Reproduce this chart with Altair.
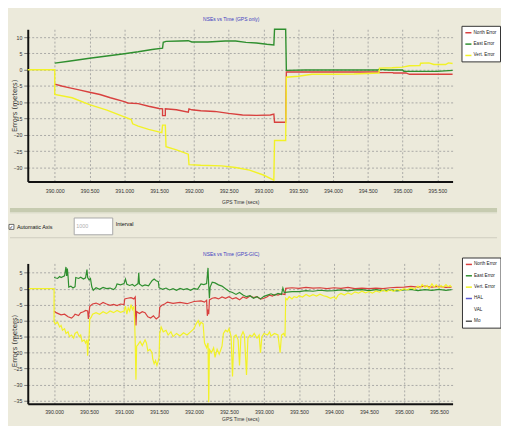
import altair as alt
import pandas as pd

BG = "#ECEADB"
FONT = "Liberation Sans"
TITLE_BLUE = "#3C3CC0"

SERIES_TOP = ["North Error", "East Error", "Vert. Error"]
COLORS_TOP = ["#D8403E", "#2F8F2F", "#F2F226"]
SERIES_BOT = ["North Error", "East Error", "Vert. Error", "HAL", "VAL", "Mo"]
COLORS_BOT = ["#D8403E", "#2F8F2F", "#F2F226", "#5A5AD2", "transparent", "#555555"]

X_TICKS = [390.0, 390.5, 391.0, 391.5, 392.0, 392.5, 393.0, 393.5, 394.0, 394.5, 395.0, 395.5]
Y_TICKS_TOP = [10, 5, 0, -5, -10, -15, -20, -25, -30]
Y_TICKS_BOT = [5, 0, -5, -10, -15, -20, -25, -30, -35]

# ---------------- top panel (GPS only): [time, error] ----------------
top_north = [
    [390.00, -4.4], [390.10, -5.0], [390.20, -5.5], [390.35, -6.2], [390.50, -6.9],
    [390.65, -7.6], [390.80, -8.6], [391.00, -9.8], [391.05, -10.2], [391.20, -10.4],
    [391.35, -11.2], [391.50, -11.9], [391.55, -12.0], [391.55, -14.1], [391.59, -14.1],
    [391.59, -12.0], [391.75, -12.3], [391.92, -13.0], [391.93, -12.0], [391.97, -12.3],
    [392.10, -12.6], [392.30, -12.8], [392.50, -13.4], [392.70, -13.9], [392.90, -14.0],
    [393.10, -13.9], [393.15, -13.6], [393.16, -16.1], [393.32, -16.1], [393.33, -0.7],
    [393.80, -0.7], [394.66, -0.7], [394.67, -0.9], [394.86, -0.9], [394.87, -1.0],
    [395.05, -1.0], [395.10, -1.4], [395.72, -1.4],
]
top_east = [
    [390.00, 2.0], [390.20, 2.6], [390.50, 3.5], [390.75, 4.2], [391.00, 4.9],
    [391.20, 5.5], [391.40, 6.2], [391.55, 6.6], [391.56, 8.4], [391.60, 8.7],
    [391.80, 8.8], [391.92, 8.9], [391.97, 8.5], [392.20, 8.5], [392.45, 8.8],
    [392.60, 8.8], [392.75, 8.4], [392.90, 8.2], [393.05, 7.8], [393.15, 7.6],
    [393.16, 12.4], [393.32, 12.4], [393.33, -0.2], [393.60, -0.1], [394.65, -0.1],
    [394.66, 0.1], [394.80, -0.1], [395.00, -0.1], [395.02, -0.5], [395.50, -0.5],
    [395.72, -0.2],
]
top_vert = [
    [389.61, 0.0], [390.00, 0.0], [390.00, -7.6], [390.25, -8.6], [390.50, -10.7],
    [390.75, -12.4], [391.00, -14.5], [391.10, -15.3], [391.12, -16.6], [391.20, -17.3],
    [391.35, -18.3], [391.54, -19.3], [391.55, -17.0], [391.59, -17.0], [391.60, -23.6],
    [391.75, -24.6], [391.92, -25.9], [391.93, -29.1], [392.10, -29.3], [392.40, -29.5],
    [392.60, -30.0], [392.80, -30.8], [393.00, -32.3], [393.15, -33.9], [393.16, -21.7],
    [393.32, -21.7], [393.33, -2.3], [393.50, -2.0], [393.70, -1.4], [394.00, -1.4],
    [394.30, -1.3], [394.66, -1.0], [394.67, 0.5], [394.85, 0.6], [395.00, 0.8],
    [395.10, 1.2], [395.25, 1.3], [395.26, 2.0], [395.38, 2.1], [395.45, 1.6],
    [395.62, 1.6], [395.66, 2.1], [395.72, 1.9],
]

# ---------------- bottom panel (GPS-GIC): [time, error] ----------------
bot_north = [
    [390.00, -7.0], [390.03, -7.5], [390.06, -7.8], [390.10, -8.2], [390.15, -8.0],
    [390.20, -8.8], [390.25, -9.2], [390.28, -8.6], [390.30, -8.0], [390.35, -8.4],
    [390.38, -7.5], [390.42, -7.2], [390.45, -6.8], [390.48, -7.0], [390.49, -9.5],
    [390.50, -7.5], [390.51, -5.5], [390.55, -4.8], [390.60, -4.5], [390.65, -5.0],
    [390.70, -4.3], [390.75, -4.8], [390.80, -5.2], [390.85, -4.9], [390.90, -5.3],
    [390.95, -4.8], [391.00, -5.0], [391.01, -3.2], [391.05, -3.0], [391.10, -2.8],
    [391.14, -3.2], [391.16, -2.6], [391.17, -11.5], [391.18, -7.2], [391.22, -7.8],
    [391.26, -7.2], [391.30, -7.5], [391.34, -8.8], [391.38, -9.2], [391.42, -8.5],
    [391.46, -9.5], [391.50, -8.8], [391.51, -5.8], [391.54, -5.2], [391.58, -4.8],
    [391.62, -4.2], [391.70, -4.6], [391.80, -4.3], [391.90, -4.7], [392.00, -4.0],
    [392.10, -3.8], [392.15, -4.2], [392.18, -3.6], [392.19, -8.5], [392.20, -6.5],
    [392.21, -8.0], [392.22, -3.5], [392.26, -3.0], [392.30, -2.8], [392.35, -3.2],
    [392.40, -2.6], [392.45, -3.0], [392.50, -2.5], [392.55, -3.2], [392.60, -2.8],
    [392.65, -3.5], [392.70, -2.6], [392.75, -3.0], [392.80, -2.3], [392.85, -2.8],
    [392.90, -2.5], [392.95, -3.3], [393.00, -3.0], [393.04, -2.6], [393.08, -2.0],
    [393.12, -2.3], [393.16, -1.8], [393.20, -2.0], [393.25, -1.6], [393.30, -1.8],
    [393.31, 0.1], [393.40, 0.3], [393.50, 0.1], [393.60, 0.4], [393.70, 0.2],
    [393.80, 0.3], [393.90, 0.0], [394.00, 0.3], [394.10, 0.1], [394.20, 0.4],
    [394.30, 0.0], [394.40, 0.2], [394.50, 0.0], [394.60, 0.2], [394.70, 0.0],
    [394.80, 0.3], [394.90, 0.4], [395.00, 0.5], [395.10, 0.7], [395.20, 0.5],
    [395.30, 0.8], [395.40, 0.5], [395.50, 0.7], [395.60, 0.4], [395.68, 0.5],
]
bot_east = [
    [390.00, 3.5], [390.05, 3.2], [390.08, 3.8], [390.10, 3.5], [390.15, 4.0],
    [390.17, 6.8], [390.18, 4.0], [390.19, 6.3], [390.20, 3.8], [390.21, 0.5],
    [390.24, 0.8], [390.27, 0.2], [390.30, 0.6], [390.31, 3.5], [390.35, 3.2],
    [390.38, 3.6], [390.42, 3.0], [390.45, 3.4], [390.47, 6.0], [390.48, 3.5],
    [390.50, 2.8], [390.52, 3.2], [390.54, 0.5], [390.56, -0.5], [390.60, 0.3],
    [390.65, -0.2], [390.70, 0.4], [390.75, 0.0], [390.80, 0.2], [390.85, -0.3],
    [390.88, 0.3], [390.90, 1.5], [390.95, 1.2], [391.00, 1.6], [391.02, 3.0],
    [391.04, 1.4], [391.08, 1.0], [391.12, 1.3], [391.15, 0.8], [391.20, 1.6],
    [391.21, 5.0], [391.22, 1.5], [391.26, 0.8], [391.30, 1.2], [391.35, 0.9],
    [391.40, 2.5], [391.43, 3.0], [391.46, 2.5], [391.49, 2.2], [391.50, 0.3],
    [391.55, -0.2], [391.60, 0.2], [391.65, -0.4], [391.70, 0.0], [391.75, -0.5],
    [391.80, 0.1], [391.85, -0.3], [391.90, 0.0], [391.95, -0.5], [392.00, 0.1],
    [392.05, -0.2], [392.10, 1.5], [392.14, 1.3], [392.18, 1.6], [392.20, 6.5],
    [392.21, 1.0], [392.22, -3.0], [392.23, 0.5], [392.26, 2.0], [392.30, 1.8],
    [392.35, 1.2], [392.40, 0.8], [392.45, 0.0], [392.50, -0.8], [392.55, -1.2],
    [392.60, -1.8], [392.65, -1.2], [392.70, -2.0], [392.75, -2.5], [392.80, -2.2],
    [392.85, -3.0], [392.90, -2.5], [392.95, -3.2], [393.00, -2.4], [393.05, -2.0],
    [393.10, -1.6], [393.15, -2.1], [393.20, -1.5], [393.25, -1.8], [393.27, 0.2],
    [393.29, -1.2], [393.33, -1.1], [393.40, -0.9], [393.50, -0.9], [393.60, -0.6],
    [393.70, -0.8], [393.80, -0.5], [393.90, -0.7], [394.00, -0.6], [394.10, -0.4],
    [394.20, -0.7], [394.30, -0.4], [394.40, -0.3], [394.50, -0.6], [394.60, -0.3],
    [394.70, -0.6], [394.80, -0.4], [394.90, -0.7], [395.00, -0.4], [395.10, -0.2],
    [395.20, -0.6], [395.30, -0.3], [395.40, -0.5], [395.50, -0.2], [395.60, -0.5],
    [395.68, -0.3],
]
bot_vert = [
    [389.64, 0.0], [390.00, 0.0], [390.00, -10.3], [390.02, -11.0], [390.05, -10.5],
    [390.08, -12.0], [390.10, -11.5], [390.12, -13.0], [390.15, -12.5], [390.17, -14.0],
    [390.20, -13.5], [390.22, -15.0], [390.25, -14.5], [390.28, -15.5], [390.30, -14.0],
    [390.33, -13.5], [390.36, -15.0], [390.38, -14.5], [390.40, -16.5], [390.43, -16.0],
    [390.45, -17.0], [390.47, -16.0], [390.48, -21.0], [390.49, -16.5], [390.50, -15.5],
    [390.51, -9.5], [390.53, -9.0], [390.55, -8.0], [390.60, -7.5], [390.65, -8.0],
    [390.70, -7.2], [390.75, -7.8], [390.80, -7.0], [390.85, -7.5], [390.90, -6.8],
    [390.95, -7.4], [391.00, -7.0], [391.02, -5.5], [391.04, -8.0], [391.06, -6.0],
    [391.08, -7.0], [391.10, -5.0], [391.12, -6.5], [391.14, -5.5], [391.15, -9.0],
    [391.16, -17.0], [391.17, -28.5], [391.18, -18.0], [391.20, -17.5], [391.23, -16.5],
    [391.26, -17.8], [391.30, -16.0], [391.32, -17.0], [391.34, -19.5], [391.37, -19.0],
    [391.40, -20.0], [391.41, -22.0], [391.43, -23.5], [391.45, -22.5], [391.47, -24.0],
    [391.49, -22.5], [391.50, -21.5], [391.51, -14.0], [391.53, -12.0], [391.56, -13.5],
    [391.60, -13.0], [391.63, -14.5], [391.67, -13.5], [391.70, -15.0], [391.75, -14.0],
    [391.80, -14.8], [391.85, -13.8], [391.90, -14.5], [391.95, -13.5], [392.00, -12.5],
    [392.03, -11.0], [392.06, -10.0], [392.08, -11.5], [392.10, -10.5], [392.13, -11.0],
    [392.15, -17.0], [392.18, -18.5], [392.20, -17.0], [392.21, -35.5], [392.22, -19.0],
    [392.25, -20.0], [392.28, -18.5], [392.30, -21.5], [392.33, -19.0], [392.36, -20.5],
    [392.40, -18.0], [392.42, -14.0], [392.45, -13.0], [392.48, -13.5], [392.50, -12.5],
    [392.53, -15.0], [392.55, -27.5], [392.57, -15.0], [392.60, -14.5], [392.63, -16.0],
    [392.65, -24.0], [392.67, -15.0], [392.70, -13.5], [392.72, -14.5], [392.75, -27.0],
    [392.77, -15.5], [392.80, -14.5], [392.83, -15.0], [392.86, -14.0], [392.90, -15.5],
    [392.93, -14.5], [392.95, -20.0], [392.97, -15.0], [393.00, -14.0], [393.05, -14.5],
    [393.08, -13.5], [393.10, -14.8], [393.15, -14.0], [393.20, -14.5], [393.23, -20.0],
    [393.25, -14.5], [393.28, -14.0], [393.30, -15.0], [393.31, -3.0], [393.33, -3.5],
    [393.36, -2.5], [393.40, -3.2], [393.43, -2.5], [393.47, -2.8], [393.50, -2.2],
    [393.55, -2.6], [393.60, -1.8], [393.65, -2.4], [393.70, -1.9], [393.75, -2.3],
    [393.80, -1.7], [393.85, -2.2], [393.90, -2.5], [393.95, -3.0], [394.00, -2.6],
    [394.03, -3.2], [394.06, -2.0], [394.10, -1.5], [394.15, -2.0], [394.20, -1.3],
    [394.25, -1.8], [394.30, -1.0], [394.35, -1.4], [394.40, -0.8], [394.45, -1.3],
    [394.50, -0.9], [394.55, -1.4], [394.60, -0.7], [394.65, -1.1], [394.70, -0.4],
    [394.75, -0.9], [394.80, -0.3], [394.85, -0.8], [394.90, -0.2], [394.95, -0.6],
    [395.00, 0.0], [395.05, -0.4], [395.10, 0.3], [395.15, -0.2], [395.20, 0.8],
    [395.23, 0.2], [395.26, 1.3], [395.30, 0.4], [395.33, 1.0], [395.36, 0.1],
    [395.40, 1.5], [395.43, 0.5], [395.46, 1.2], [395.50, 0.3], [395.53, 1.0],
    [395.56, 0.4], [395.60, 1.3], [395.63, 0.6], [395.66, 1.0], [395.68, 0.5],
]


def frame(pairs, name):
    return pd.DataFrame({
        "t": [p[0] for p in pairs],
        "v": [p[1] for p in pairs],
        "s": name,
        "i": list(range(len(pairs))),
    })


one = pd.DataFrame({"k": [0]})


def x_axis(label_pad, title_y):
    return alt.Axis(values=X_TICKS, format=".3f", title="GPS Time (secs)", ticks=False,
                    labelPadding=label_pad, titleY=title_y, titleBaseline="middle",
                    labelFlush=False, labelOverlap=False)


def y_axis(vals, title_y):
    return alt.Axis(values=vals, title="Errors (meters)", tickSize=4, labelPadding=2,
                    titleX=-10, titleY=title_y, titleFont="DejaVu Sans", titleFontSize=7,
                    labelOverlap=False, labelFlush=False)


def legend(x, y):
    return alt.Legend(title=None, orient="none", legendX=x, legendY=y, direction="vertical",
                      fillColor="white", strokeColor="#333333", padding=3, rowPadding=4.5,
                      symbolType="stroke", symbolSize=38, symbolStrokeWidth=1.5,
                      labelFont=FONT, labelFontSize=4.7, labelColor="#222222", labelOffset=1.2,
                      cornerRadius=0)


def deco_rect(x, x2, y, y2, fill, stroke=None, sw=0):
    kw = {"fill": fill}
    if stroke:
        kw.update(stroke=stroke, strokeWidth=sw)
    return alt.Chart(one).mark_rect(**kw).encode(
        x=alt.value(x), x2=alt.value(x2), y=alt.value(y), y2=alt.value(y2))


def deco_text(txt, x, y, color="#111111", size=5.5, font=FONT, align="left"):
    return alt.Chart(one).mark_text(text=txt, align=align, baseline="middle", fontSize=size,
                                    font=font, color=color).encode(x=alt.value(x), y=alt.value(y))


# ---------------- top panel ----------------
top_df = pd.concat([frame(top_north, "North Error"), frame(top_east, "East Error"),
                    frame(top_vert, "Vert. Error")], ignore_index=True)

top_lines = alt.Chart(top_df).mark_line(strokeWidth=1.4).encode(
    x=alt.X("t:Q", scale=alt.Scale(domain=[389.612, 395.72], nice=False, zero=False),
            axis=x_axis(7, 20)),
    y=alt.Y("v:Q", scale=alt.Scale(domain=[-34.27, 12.4], nice=False, zero=False),
            axis=y_axis(Y_TICKS_TOP, 77)),
    color=alt.Color("s:N", scale=alt.Scale(domain=SERIES_TOP, range=COLORS_TOP),
                    legend=legend(439, -3.5)),
    order="i:Q",
)

top = alt.layer(
    deco_text("NSEs vs Time (GPS only)", 206, -10, color=TITLE_BLUE, size=5, align="center"),
    deco_rect(441.5, 477.5, -1.5, 30, "#222222"),
    top_lines,
).properties(width=430, height=154)

# ---------------- bottom panel ----------------
bot_df = pd.concat([frame(bot_north, "North Error"), frame(bot_east, "East Error"),
                    frame(bot_vert, "Vert. Error")], ignore_index=True)

bot_lines = alt.Chart(bot_df).mark_line(strokeWidth=1.2).encode(
    x=alt.X("t:Q", scale=alt.Scale(domain=[389.624, 395.695], nice=False, zero=False),
            axis=x_axis(6, 15)),
    y=alt.Y("v:Q", scale=alt.Scale(domain=[-36.0, 7.9], nice=False, zero=False),
            axis=y_axis(Y_TICKS_BOT, 78)),
    color=alt.Color("s:N", scale=alt.Scale(domain=SERIES_BOT, range=COLORS_BOT),
                    legend=legend(439.5, -6)),
    order="i:Q",
)

bottom = alt.layer(
    # invisible extent pin: the svg covers the page area inside the body margin
    alt.Chart(one).mark_rect(opacity=0).encode(
        x=alt.value(-18), x2=alt.value(475), y=alt.value(-256), y2=alt.value(162)),
    # control strip between the two graphs
    deco_rect(-18, 475, -56, -52, "#C6CBB0"),
    deco_rect(-18, 475, -52, -50.5, "#DCDDCB"),
    deco_rect(-18, 475, -26.5, -25.5, "#CFCDBF"),
    deco_rect(-19, -14, -39.5, -34.5, "white", "#4A4A4A", 0.8),
    deco_text("✓", -18.7, -37, size=5, font="DejaVu Sans"),
    deco_text("Automatic Axis", -11, -37),
    deco_rect(47, 86, -46, -29, "white", "#A8A8A8", 1),
    deco_text("1000", 49, -37.5, color="#B0B0B0"),
    deco_text("Interval", 89, -40),
    deco_text("NSEs vs Time (GPS-GIC)", 206, -10, color=TITLE_BLUE, size=5, align="center"),
    # legend shadow
    deco_rect(442, 478, -4, 57.5, "#222222"),
    bot_lines,
).properties(width=430, height=142)

chart = alt.vconcat(top, bottom, spacing=83, bounds="flush").resolve_scale(
    color="independent"
).resolve_legend(
    color="independent"
).properties(
    padding=0, background=BG
).configure_view(
    strokeWidth=0
).configure_axis(
    domainColor="#111111", domainWidth=2, gridColor="#9A9A9A", gridDash=[2, 2], gridWidth=0.8,
    labelFont=FONT, labelFontSize=5.3, labelColor="#333333", tickColor="#777777",
    titleFont=FONT, titleFontWeight="normal", titleFontSize=5, titleColor="#333333",
)

chart.save("out.html", embed_options={"renderer": "svg", "actions": False})
